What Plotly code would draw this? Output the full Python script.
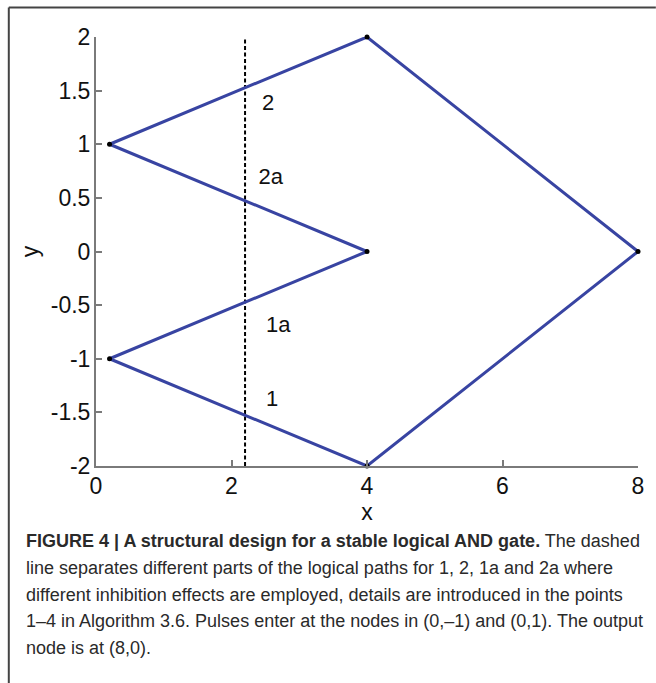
import plotly.graph_objects as go

# Nodes of the AND-gate network and the path joining them
path_x = [0.2, 4, 8, 4, 0.2, 4, 0.2]
path_y = [1, 2, 0, -2, -1, 0, 1]

node_x = [0.2, 0.2, 4, 4, 4, 8]
node_y = [1, -1, 2, 0, -2, 0]

# Vertical separator between the path sections
sep_x = [2.2, 2.2]
sep_y = [-2, 2]

# Path labels
label_text = ["2", "2a", "1a", "1"]
label_x = [2.54, 2.58, 2.69, 2.6]
label_y = [1.37, 0.68, -0.70, -1.39]

caption_lines = [
    "<b>FIGURE 4 | A structural design for a stable logical AND gate.</b> The dashed",
    "line separates different parts of the logical paths for 1, 2, 1a and 2a where",
    "different inhibition effects are employed, details are introduced in the points",
    "1–4 in Algorithm 3.6. Pulses enter at the nodes in (0,–1) and (0,1). The output",
    "node is at (8,0).",
]

W, H = 656, 683
L, R, T, B = 96, 643, 37, 466


def px(x):
    return (x - L) / (R - L)


def py(y):
    return (B - y) / (B - T)


fig = go.Figure()
fig.add_trace(go.Scatter(
    x=sep_x, y=sep_y, mode="lines",
    line=dict(color="black", width=2, dash="4px,2.5px"),
    hoverinfo="skip", showlegend=False,
))
fig.add_trace(go.Scatter(
    x=path_x, y=path_y, mode="lines",
    line=dict(color="#3844a2", width=3),
    showlegend=False,
))
fig.add_trace(go.Scatter(
    x=node_x, y=node_y, mode="markers",
    marker=dict(color="black", size=5),
    cliponaxis=False, showlegend=False,
))
fig.add_trace(go.Scatter(
    x=label_x, y=label_y, mode="text", text=label_text,
    textfont=dict(family="Liberation Sans, Arial", size=22, color="#111"),
    showlegend=False,
))

axis_common = dict(
    showgrid=False, zeroline=False, showline=True,
    linecolor="#7a7a7a", linewidth=2,
    ticks="inside", ticklen=6, tickcolor="#7a7a7a", tickwidth=1.5,
    tickfont=dict(family="Liberation Sans, Arial", size=23, color="#111"),
    mirror=False,
)

fig.update_layout(
    width=W, height=H,
    margin=dict(l=L, r=W - R, t=T, b=H - B),
    paper_bgcolor="white", plot_bgcolor="white",
    xaxis=dict(range=[0, 8], tickvals=[0, 2, 4, 6, 8], ticktext=["0", "2", "4", "6", "8"],
               title=dict(text="x", font=dict(family="Liberation Sans, Arial", size=23, color="#111"),
                          standoff=0),
               ticklabelstandoff=-2,
               **axis_common),
    yaxis=dict(range=[-2, 2], tickvals=[-2, -1.5, -1, -0.5, 0, 0.5, 1, 1.5, 2],
               ticktext=["-2", "-1.5", "-1", "-0.5", "0", "0.5", "1", "1.5", "2"],
               title=dict(text="y", font=dict(family="Liberation Sans, Arial", size=23, color="#111"),
                          standoff=6),
               ticklabelstandoff=-1,
               **axis_common),
    font=dict(family="Liberation Sans, Arial"),
)

# Frame around the figure panel: top and left edges
fig.add_shape(type="line", xref="paper", yref="paper",
              x0=px(8), y0=py(7.5), x1=px(W + 5), y1=py(7.5),
              line=dict(color="#444", width=2))
fig.add_shape(type="line", xref="paper", yref="paper",
              x0=px(8), y0=py(7.5), x1=px(8), y1=py(H + 5),
              line=dict(color="#444", width=2))

# Caption, one line at a time
line_y0 = 541
line_step = 26.8
for i, line in enumerate(caption_lines):
    fig.add_annotation(
        xref="paper", yref="paper",
        x=px(23), y=py(line_y0 + i * line_step),
        xanchor="left", yanchor="middle",
        text=line, showarrow=False, align="left",
        font=dict(family="Liberation Sans Narrow, Arial Narrow, Liberation Sans", size=18, color="#2a2a2a"),
    )

fig.write_html("out.html")
